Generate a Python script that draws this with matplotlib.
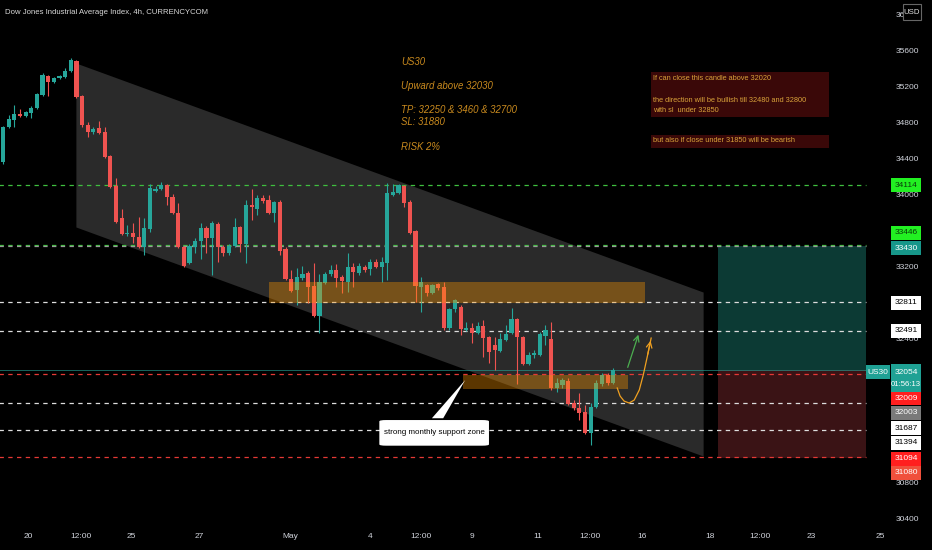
import numpy as np
import matplotlib.pyplot as plt
import matplotlib.transforms as mtransforms
from matplotlib.patches import Rectangle, Polygon, FancyBboxPatch

# ---------------------------------------
# Data (US30, 4h candles)
# ---------------------------------------
opens = [34367, 34756, 34834, 34900, 34878, 34911, 34967, 35111, 35322, 35256,
         35300, 35311, 35378, 35489, 35100, 34778, 34700, 34745, 34700, 34433,
         34100, 33745, 33567, 33578, 33534, 33422, 33623, 34045, 34067, 34111,
         33978, 33800, 33422, 33245, 33422, 33489, 33634, 33522, 33678, 33422,
         33356, 33434, 33645, 33456, 33889, 33845, 33967, 33945, 33800, 33922,
         33400, 33067, 32945, 33078, 33134, 32989, 32656, 33022, 33122, 33167,
         33089, 33034, 33200, 33134, 33200, 33178, 33256, 33200, 33245, 34000,
         34022, 34100, 33922, 33600, 32978, 33000, 32911, 33011, 32978, 32522,
         32734, 32756, 32500, 32522, 32467, 32545, 32422, 32334, 32267, 32389,
         32467, 32622, 32422, 32122, 32222, 32222, 32434, 32400, 31856, 31889,
         31934, 31689, 31634, 31589, 31356, 31645, 31900, 32000, 31912]
highs = [34767, 34889, 35000, 34956, 34934, 34989, 35134, 35356, 35334, 35311,
         35334, 35411, 35523, 35500, 35111, 34811, 34756, 34822, 34756, 34445,
         34189, 33845, 33667, 33689, 33756, 33745, 34122, 34100, 34145, 34122,
         34011, 33911, 33434, 33456, 33522, 33689, 33656, 33711, 33700, 33445,
         33456, 33745, 33656, 33945, 34067, 34000, 34000, 34000, 33934, 33945,
         33422, 33167, 33189, 33211, 33156, 33245, 33122, 33145, 33222, 33234,
         33111, 33356, 33245, 33245, 33222, 33289, 33289, 33311, 34134, 34122,
         34122, 34111, 33945, 33611, 33089, 33011, 33011, 33022, 33034, 32745,
         32845, 32778, 32589, 32578, 32589, 32611, 32434, 32422, 32467, 32556,
         32745, 32634, 32434, 32256, 32278, 32478, 32556, 32589, 31967, 31967,
         31967, 31722, 31800, 31667, 31689, 31945, 32023, 32023, 32078]
lows = [34345, 34745, 34756, 34867, 34867, 34856, 34956, 35100, 35100, 35245,
        35289, 35300, 35367, 35078, 34756, 34645, 34678, 34678, 34411, 34078,
        33689, 33556, 33545, 33467, 33411, 33334, 33589, 34034, 34056, 33889,
        33789, 33411, 33200, 33234, 33356, 33289, 33356, 33111, 33256, 33322,
        33334, 33422, 33367, 33245, 33722, 33778, 33911, 33789, 33700, 33334,
        33056, 32922, 32778, 33056, 32800, 32645, 32467, 33011, 33100, 32978,
        32911, 32922, 32978, 33111, 33145, 33111, 33189, 33034, 33056, 33989,
        34011, 33867, 33567, 32811, 32700, 32878, 32900, 32945, 32500, 32500,
        32700, 32445, 32489, 32356, 32456, 32200, 32134, 32056, 32256, 32378,
        32456, 31900, 32111, 32111, 32189, 32211, 32334, 31834, 31812, 31856,
        31667, 31612, 31500, 31345, 31222, 31634, 31878, 31889, 31900]
closes = [34756, 34845, 34900, 34878, 34922, 34967, 35122, 35334, 35256, 35300,
          35322, 35378, 35500, 35089, 34778, 34700, 34734, 34689, 34422, 34089,
          33700, 33567, 33578, 33534, 33422, 33634, 34078, 34067, 34111, 33978,
          33800, 33422, 33211, 33434, 33489, 33634, 33522, 33689, 33422, 33356,
          33434, 33645, 33456, 33889, 33867, 33967, 33934, 33800, 33922, 33378,
          33067, 32934, 33089, 33122, 32978, 32656, 33034, 33122, 33167, 33078,
          33045, 33200, 33145, 33211, 33167, 33256, 33200, 33256, 34022, 34034,
          34111, 33911, 33578, 32989, 33034, 32911, 33000, 32967, 32522, 32734,
          32834, 32511, 32522, 32467, 32545, 32411, 32256, 32278, 32400, 32456,
          32622, 32422, 32122, 32222, 32245, 32456, 32500, 31856, 31912, 31945,
          31678, 31634, 31578, 31356, 31645, 31912, 32000, 31912, 32054]

# scale ticks that are not hidden behind a price label
price_ticks = [30400, 30800, 32400, 32800, 33200,
               34000, 34400, 34800, 35200, 35600, 36000]
date_labels = ["20", "12:00", "25", "27", "May", "4", "12:00", "9", "11",
               "12:00", "16", "18", "12:00", "23", "25"]
date_pos = [4.4, 13.8, 22.7, 34.7, 50.8, 65.0, 74.0, 83.0, 94.7, 103.9,
            113.1, 125.1, 134.0, 143.0, 155.2]

# drawings
channel_x = [12.9, 123.9]
channel_top = [35467, 32922]
channel_bottom = [33645, 31100]
zone1 = [47.1, 113.6, 32800, 33034]
zone2 = [81.4, 110.6, 31845, 32000]
position_x = [126.5, 152.7]
position_tp, position_entry, position_sl = 33430, 32060, 31080

hlines = [(34114, "#3fbf3f"), (33446, "#3fbf3f"), (33430, "#9a9a9a"),
          (32811, "#dddddd"), (32491, "#dddddd"), (31687, "#dddddd"),
          (31394, "#dddddd"), (32009, "#e53935"), (31094, "#e53935")]

# (text, y pixel, background, text colour)
price_labels = [("34114", 185, "#22f022", "#0a3a0a"),
                ("33446", 233, "#22f022", "#0a3a0a"),
                ("33430", 248, "#17978a", "white"),
                ("32811", 303, "white", "black"),
                ("32491", 331, "white", "black"),
                ("32009", 398, "#ff1f1f", "white"),
                ("32003", 413, "#7a7a7a", "white"),
                ("31687", 428, "white", "black"),
                ("31394", 443, "white", "black"),
                ("31094", 459, "#ff1f1f", "white"),
                ("31080", 473, "#f0503c", "white")]

orange_x = [108.7, 109.2, 109.9, 110.8, 111.7, 112.6, 113.3, 114.0, 114.7]
orange_y = [31856, 31767, 31711, 31689, 31722, 31834, 32000, 32200, 32411]

plt.rcParams["font.family"] = ["Liberation Sans", "DejaVu Sans"]

W, H = 932, 550
BG = "#000000"
FS = 6.0


def pos(px, py):
    return px / W, 1 - py / H


fig = plt.figure(figsize=(W / 100, H / 100), dpi=100, facecolor=BG)
ax = fig.add_axes([0, 0, 1, 1])
ax.set_facecolor(BG)
ax.set_xlim(-0.53, 164.4)
ax.set_ylim(30056, 36167)
ax.axis("off")

# channel
ax.fill_between(channel_x, channel_bottom, channel_top, color="#2a2a2a",
                lw=0, zorder=1)

# position boxes
px0, px1 = position_x
ax.add_patch(Rectangle((px0, position_entry), px1 - px0,
                       position_tp - position_entry, color="#0c3a34",
                       lw=0, zorder=1))
ax.add_patch(Rectangle((px0, position_sl), px1 - px0,
                       position_entry - position_sl, color="#3a1315",
                       lw=0, zorder=1))

# horizontal lines
for price, col in hlines:
    ax.hlines(price, -1, 152.7, colors=col, lw=0.9,
              linestyles=(0, (3.5, 3.5)), zorder=2)
ax.hlines(closes[-1], -1, 152.7, colors="#26a69a", lw=0.6, alpha=0.7, zorder=2)

# candles
idx = np.arange(len(opens))
o = np.array(opens)
c = np.array(closes)
up = c >= o
colors = np.where(up, "#26a69a", "#ef5350")
ax.vlines(idx, lows, highs, colors=colors, lw=0.8, zorder=3)
body = np.maximum(np.abs(c - o), 14)
ax.bar(idx, body, bottom=np.minimum(o, c), width=0.74, color=colors,
       lw=0, zorder=3)

# orange zones
for z in (zone1, zone2):
    ax.add_patch(Rectangle((z[0], z[2]), z[1] - z[0], z[3] - z[2],
                           color="#ff9800", alpha=0.36, lw=0, zorder=4))

# arrows
ax.annotate("", xy=(112.6, 32478), xytext=(110.4, 32056),
            arrowprops=dict(arrowstyle="->", color="#4caf50", lw=0.9),
            zorder=5)
ax.plot(orange_x, orange_y, color="#f0a020", lw=0.9, zorder=5)
ax.annotate("", xy=(orange_x[-1], orange_y[-1]),
            xytext=(orange_x[-2], orange_y[-2]),
            arrowprops=dict(arrowstyle="->", color="#f0a020", lw=0.9),
            zorder=5)

# callout
ax.add_patch(Polygon([(75.9, 31520), (77.9, 31520), (81.8, 31945)],
                     closed=True, color="white", lw=0, zorder=5))
ax.add_patch(FancyBboxPatch((66.6, 31215), 19.4, 285,
                            boxstyle="round,pad=0,rounding_size=1.2",
                            mutation_aspect=12, color="white", lw=0, zorder=5))
ax.text(76.3, 31357, "strong monthly support zone", color="black",
        fontsize=5.8, ha="center", va="center", zorder=6)

# ---------------------------------------
# Text notes
# ---------------------------------------
fig.text(*pos(5, 12), "Dow Jones Industrial Average Index, 4h, CURRENCYCOM",
         color="#d8d8d8", fontsize=5.6, va="center")

note_color = "#c98a1e"
for txt, py in [("US30", 62), ("Upward above 32030", 86),
                ("TP: 32250 & 3460 & 32700", 110), ("SL: 31880", 122),
                ("RISK 2%", 147)]:
    fig.text(*pos(401, py), txt, color=note_color, fontsize=6.9,
             style="italic", va="center")

for x0, y0, x1, y1 in [(651, 72, 829, 117), (651, 135, 829, 148)]:
    fig.patches.append(Rectangle(pos(x0, y1), (x1 - x0) / W, (y1 - y0) / H,
                                 transform=fig.transFigure, color="#3a0808",
                                 lw=0, zorder=1))
box_color = "#d9a23a"
for txt, py in [("If can close this candle above 32020", 79),
                ("the direction will be bullish till 32480 and 32800", 100),
                ("with sl  under 32850", 110),
                ("but also if close under 31850 will be bearish", 141)]:
    fig.text(*pos(653, py), txt, color=box_color, fontsize=5.3, va="center")

# ---------------------------------------
# Price scale
# ---------------------------------------
blend = mtransforms.blended_transform_factory(ax.transAxes, ax.transData)
for p in price_ticks:
    ax.text(907 / W, p, str(p), transform=blend, color="#d1d4dc",
            fontsize=FS, ha="center", va="center", zorder=6)

for txt, py, bg, fg in price_labels:
    fig.patches.append(Rectangle(pos(891, py + 7), 30 / W, 14 / H,
                                 transform=fig.transFigure, color=bg,
                                 lw=0, zorder=7))
    fig.text(*pos(906, py), txt, color=fg, fontsize=FS, ha="center",
             va="center", zorder=8)

# last price label
fig.patches.append(Rectangle(pos(866, 379), 24 / W, 14 / H,
                             transform=fig.transFigure, color="#1fa194",
                             lw=0, zorder=7))
fig.text(*pos(878, 372), "US30", color="white", fontsize=FS, ha="center",
         va="center", zorder=8)
fig.patches.append(Rectangle(pos(891, 392), 30 / W, 28 / H,
                             transform=fig.transFigure, color="#1fa194",
                             lw=0, zorder=7))
fig.text(*pos(906, 372), "32054", color="white", fontsize=FS, ha="center",
         va="center", zorder=8)
fig.text(*pos(906, 385), "01:56:13", color="white", fontsize=5.6,
         ha="center", va="center", zorder=8)

# USD box
fig.patches.append(Rectangle(pos(903, 20), 18 / W, 16 / H,
                             transform=fig.transFigure, facecolor=BG,
                             edgecolor="#666666", lw=0.8, zorder=7))
fig.text(*pos(912, 12), "USD", color="#e0e0e0", fontsize=5.6, ha="center",
         va="center", zorder=8)

# date axis
blend_x = mtransforms.blended_transform_factory(ax.transData, ax.transAxes)
for lab, x in zip(date_labels, date_pos):
    ax.text(x, 1 - 537 / H, lab, transform=blend_x, color="#d1d4dc",
            fontsize=FS, ha="center", va="center")

fig.savefig("out.png", dpi=100, facecolor=BG)
